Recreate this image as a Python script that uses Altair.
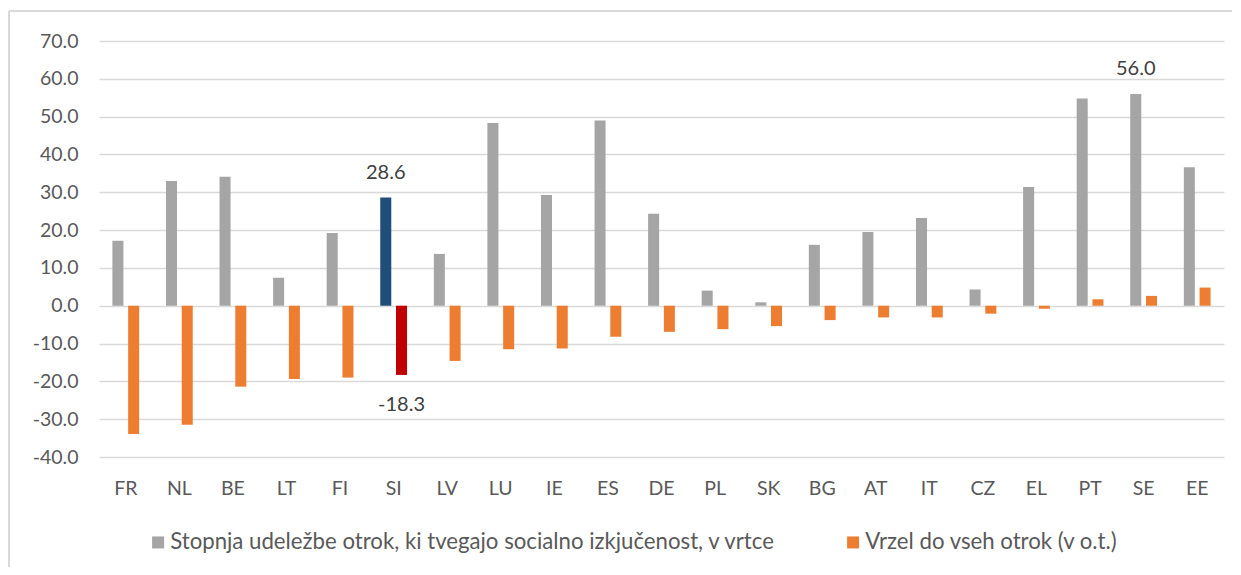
import altair as alt
import pandas as pd

countries = ["FR", "NL", "BE", "LT", "FI", "SI", "LV", "LU", "IE", "ES", "DE",
             "PL", "SK", "BG", "AT", "IT", "CZ", "EL", "PT", "SE", "EE"]
participation = [17.2, 33.0, 34.1, 7.4, 19.2, 28.6, 13.7, 48.3, 29.3, 49.0, 24.3,
                 4.0, 0.9, 16.1, 19.5, 23.2, 4.3, 31.4, 54.8, 56.0, 36.6]
gap = [-33.9, -31.5, -21.4, -19.4, -19.0, -18.3, -14.6, -11.5, -11.3, -8.2, -6.9,
       -6.2, -5.4, -3.8, -3.1, -3.1, -2.1, -0.8, 1.7, 2.6, 4.8]
series_names = ["Stopnja udeležbe otrok, ki tvegajo socialno izkjučenost, v vrtce",
                "Vrzel do vseh otrok (v o.t.)"]
labelled = [("SI", 0), ("SI", 1), ("SE", 0)]
y_ticks = [-40, -30, -20, -10, 0, 10, 20, 30, 40, 50, 60, 70]

rows = []
for i, c in enumerate(countries):
    for s, vals in enumerate([participation, gap]):
        rows.append({"country": c, "series": series_names[s], "value": vals[i],
                     "labelled": (c, s) in labelled})
df = pd.DataFrame(rows)

FONT = "Lato"
GRAY_TXT = "#595959"
FMT = "datum.value < 0 ? '-' + format(-datum.value, '.1f') : format(datum.value, '.1f')"

x_enc = alt.X("country:N", sort=countries,
              scale=alt.Scale(paddingInner=0.5, paddingOuter=0.25),
              axis=alt.Axis(title=None, labelAngle=0, domain=False, ticks=False,
                            tickSize=0, labelPadding=22, labelFontSize=19.5,
                            labelColor=GRAY_TXT, labelFont=FONT, grid=False))
y_enc = alt.Y("value:Q",
              scale=alt.Scale(domain=[-40, 70], nice=False, zero=False),
              axis=alt.Axis(title=None, values=y_ticks, labelExpr=FMT,
                            labelOverlap=False,
                            domain=False, ticks=False, tickSize=0, labelPadding=21,
                            labelFontSize=19.5, labelColor=GRAY_TXT, labelFont=FONT,
                            grid=True, gridColor="#D9D9D9", gridWidth=1.5))
xoff = alt.XOffset("series:N", sort=series_names, scale=alt.Scale(paddingInner=0.3))

bars = alt.Chart(df).mark_bar().encode(
    x=x_enc, y=y_enc, xOffset=xoff,
    color=alt.Color("series:N",
                    scale=alt.Scale(domain=series_names, range=["#A5A5A5", "#ED7D31"]),
                    legend=alt.Legend(title=None, orient="none", direction="horizontal",
                                      legendX=48, legendY=490, symbolType="square",
                                      symbolSize=144, symbolStrokeWidth=0,
                                      labelFontSize=22.2, labelFont=FONT,
                                      labelColor=GRAY_TXT, labelLimit=900,
                                      columnPadding=66, labelOffset=1),
                    condition=[
                        {"test": f"datum.country === 'SI' && datum.series === '{series_names[0]}'", "value": "#1F4E79"},
                        {"test": f"datum.country === 'SI' && datum.series === '{series_names[1]}'", "value": "#C00000"},
                    ]),
)

lab = alt.Chart(df).transform_filter("datum.labelled").transform_calculate(
    txt=FMT)

pos_text = lab.transform_filter("datum.value >= 0").mark_text(
    fontSize=20, font=FONT, color="#404040", dy=-25).encode(
    x=x_enc, y=y_enc, xOffset=xoff, text="txt:N")
neg_text = lab.transform_filter("datum.value < 0").mark_text(
    fontSize=20, font=FONT, color="#404040", dy=30).encode(
    x=x_enc, y=y_enc, xOffset=xoff, text="txt:N")

frame = pd.DataFrame({"k": [0]})
top_line = alt.Chart(frame).mark_rule(color="#D9D9D9", strokeWidth=2).encode(
    x=alt.value(-90), x2=alt.value(1140), y=alt.value(-30))
left_line = alt.Chart(frame).mark_rule(color="#D9D9D9", strokeWidth=2).encode(
    x=alt.value(-90), y=alt.value(-30), y2=alt.value(530))

chart = alt.layer(bars, pos_text, neg_text, top_line, left_line).properties(
    width=1125, height=416,
    autosize=alt.AutoSizeParams(type="none"),
    padding={"left": 91, "top": 33, "right": 8, "bottom": 110},
    background="white",
).configure_view(stroke=None)

chart.save("out.html", embed_options={"renderer": "svg", "actions": False})
